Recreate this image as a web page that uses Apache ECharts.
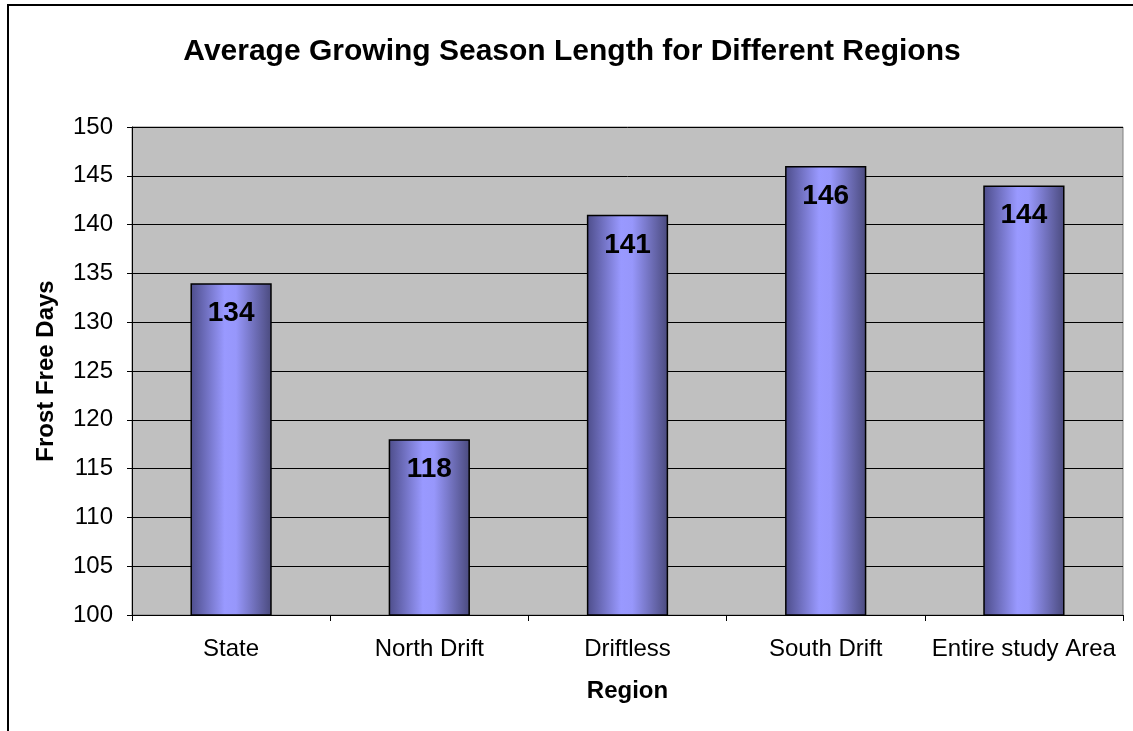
<!DOCTYPE html>
<html>
<head>
<meta charset="utf-8">
<script src="https://cdn.jsdelivr.net/npm/echarts@6/dist/echarts.min.js"></script>
<style>
  html, body { margin: 0; padding: 0; background: #ffffff; }
  #chart { width: 1133px; height: 731px; }
</style>
</head>
<body>
<div id="chart"></div>
<script>
// Growing season length by region
const regions = ['State', 'North Drift', 'Driftless', 'South Drift', 'Entire study Area'];
const frostFreeDays = [134, 118, 141, 146, 144];
const yTicks = { min: 100, max: 150, step: 5 };

const font = '"Liberation Sans", Arial, sans-serif';
const barFill = new echarts.graphic.LinearGradient(0, 0, 1, 0, [
  { offset: 0, color: '#4d4d8a' },
  { offset: 0.42, color: '#9999ff' },
  { offset: 0.56, color: '#9797fb' },
  { offset: 1, color: '#4a4a7d' }
]);

const chart = echarts.init(document.getElementById('chart'), null, { renderer: 'canvas' });
chart.setOption({
  animation: false,
  backgroundColor: '#ffffff',
  title: {
    text: 'Average Growing Season Length for Different Regions',
    left: 567, top: 32, textAlign: 'center',
    textStyle: { fontFamily: font, fontWeight: 'bold', fontSize: 30, color: '#000' }
  },
  grid: { left: 132, right: 10, top: 127, bottom: 116, containLabel: false,
          show: true, backgroundColor: '#c0c0c0', borderColor: '#808080', borderWidth: 1 },
  xAxis: {
    type: 'category',
    data: regions,
    name: 'Region',
    nameLocation: 'middle',
    nameGap: 64,
    nameTextStyle: { fontFamily: font, fontWeight: 'bold', fontSize: 24, color: '#000' },
    axisLine: { lineStyle: { color: '#000', width: 1 } },
    axisTick: { show: true, interval: 0, length: 6, lineStyle: { color: '#000' } },
    axisLabel: { interval: 0, hideOverlap: false, fontFamily: font, fontSize: 24, color: '#000', margin: 22 },
    splitLine: { show: false }
  },
  yAxis: {
    type: 'value',
    min: yTicks.min, max: yTicks.max, interval: yTicks.step,
    name: 'Frost Free Days',
    nameLocation: 'middle',
    nameGap: 74,
    nameTextStyle: { fontFamily: font, fontWeight: 'bold', fontSize: 24, color: '#000' },
    axisLine: { show: true, lineStyle: { color: '#000', width: 1 } },
    axisTick: { show: true, length: 5, inside: false, lineStyle: { color: '#000' } },
    axisLabel: { fontFamily: font, fontSize: 24, color: '#000', margin: 19 },
    splitLine: { show: true, lineStyle: { color: '#000', width: 1 } }
  },
  series: [{
    type: 'bar',
    data: frostFreeDays,
    barWidth: '41%',
    itemStyle: { color: barFill, borderColor: '#000', borderWidth: 1.5 },
    label: {
      show: true, position: 'insideTop', distance: 16,
      fontFamily: font, fontWeight: 'bold', fontSize: 28, color: '#000'
    }
  }],
  graphic: [{
    type: 'rect', silent: true, z: -1,
    shape: { x: 8, y: 5, width: 1140, height: 740 },
    style: { fill: 'none', stroke: '#000', lineWidth: 2 }
  }]
});
</script>
</body>
</html>
